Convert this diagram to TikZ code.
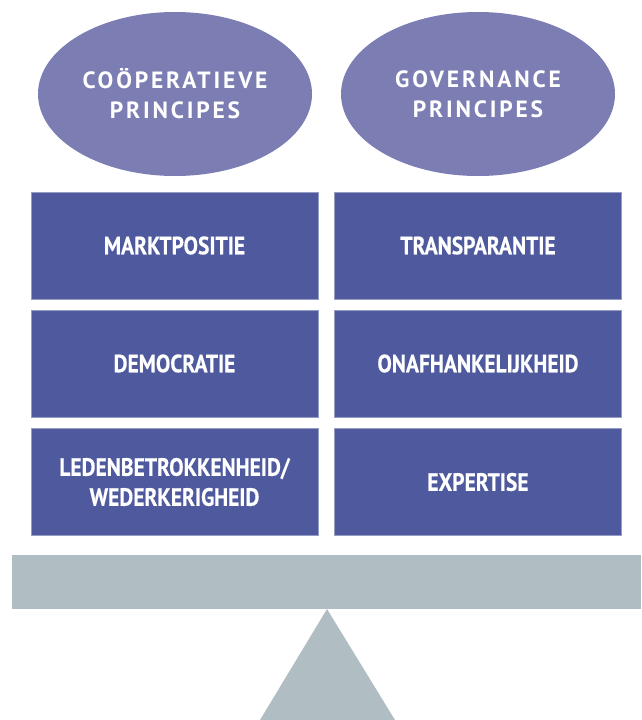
\documentclass[tikz,border=0pt]{standalone}
\usepackage{fontspec}
\setmainfont{PT Sans}[BoldFont={PT Sans Bold}]
\newfontfamily\ellfont{PT Sans Bold}[LetterSpace=12]
\newfontfamily\boxfont{PT Sans Bold}[FakeStretch=0.86,FakeBold=0.4]
\usetikzlibrary{shapes.geometric}
\definecolor{ellc}{HTML}{7B7DB3}
\definecolor{boxc}{HTML}{4F5A9E}
\definecolor{beamc}{HTML}{B0BEC4}
\tikzset{
  ellbox/.style={ellipse, fill=ellc, draw=none, minimum width=274pt, minimum height=164pt, inner sep=0pt,
    text=white, align=center, font=\ellfont\fontsize{23.5}{30}\selectfont},
  principle/.style={rectangle, fill=boxc, draw=boxc!60!white, line width=0.6pt, minimum width=287pt, minimum height=107pt, inner sep=0pt,
    text=white, align=center, font=\boxfont\fontsize{25}{30}\selectfont},
}
\begin{document}
\begin{tikzpicture}[x=1pt,y=-1pt]
\useasboundingbox (0,0) rectangle (641,720);
\node[ellbox] (e1) at (175,94) {COÖPERATIEVE\\PRINCIPES};
\node[ellbox] (e2) at (478,94) {GOVERNANCE\\PRINCIPES};
\node[principle] (l1) at (174.5,245.5) {MARKTPOSITIE};
\node[principle] (r1) at (478,245.5) {TRANSPARANTIE};
\node[principle] (l2) at (174.5,363.5) {DEMOCRATIE};
\node[principle] (r2) at (478,363.5) {ONAFHANKELIJKHEID};
\node[principle] (l3) at (174.5,482) {LEDENBETROKKENHEID/\\WEDERKERIGHEID};
\node[principle] (r3) at (478,482) {EXPERTISE};
\fill[beamc] (12,555) rectangle (641,609);
\fill[beamc] (327,609) -- (395,720) -- (260,720) -- cycle;
\end{tikzpicture}
\end{document}
